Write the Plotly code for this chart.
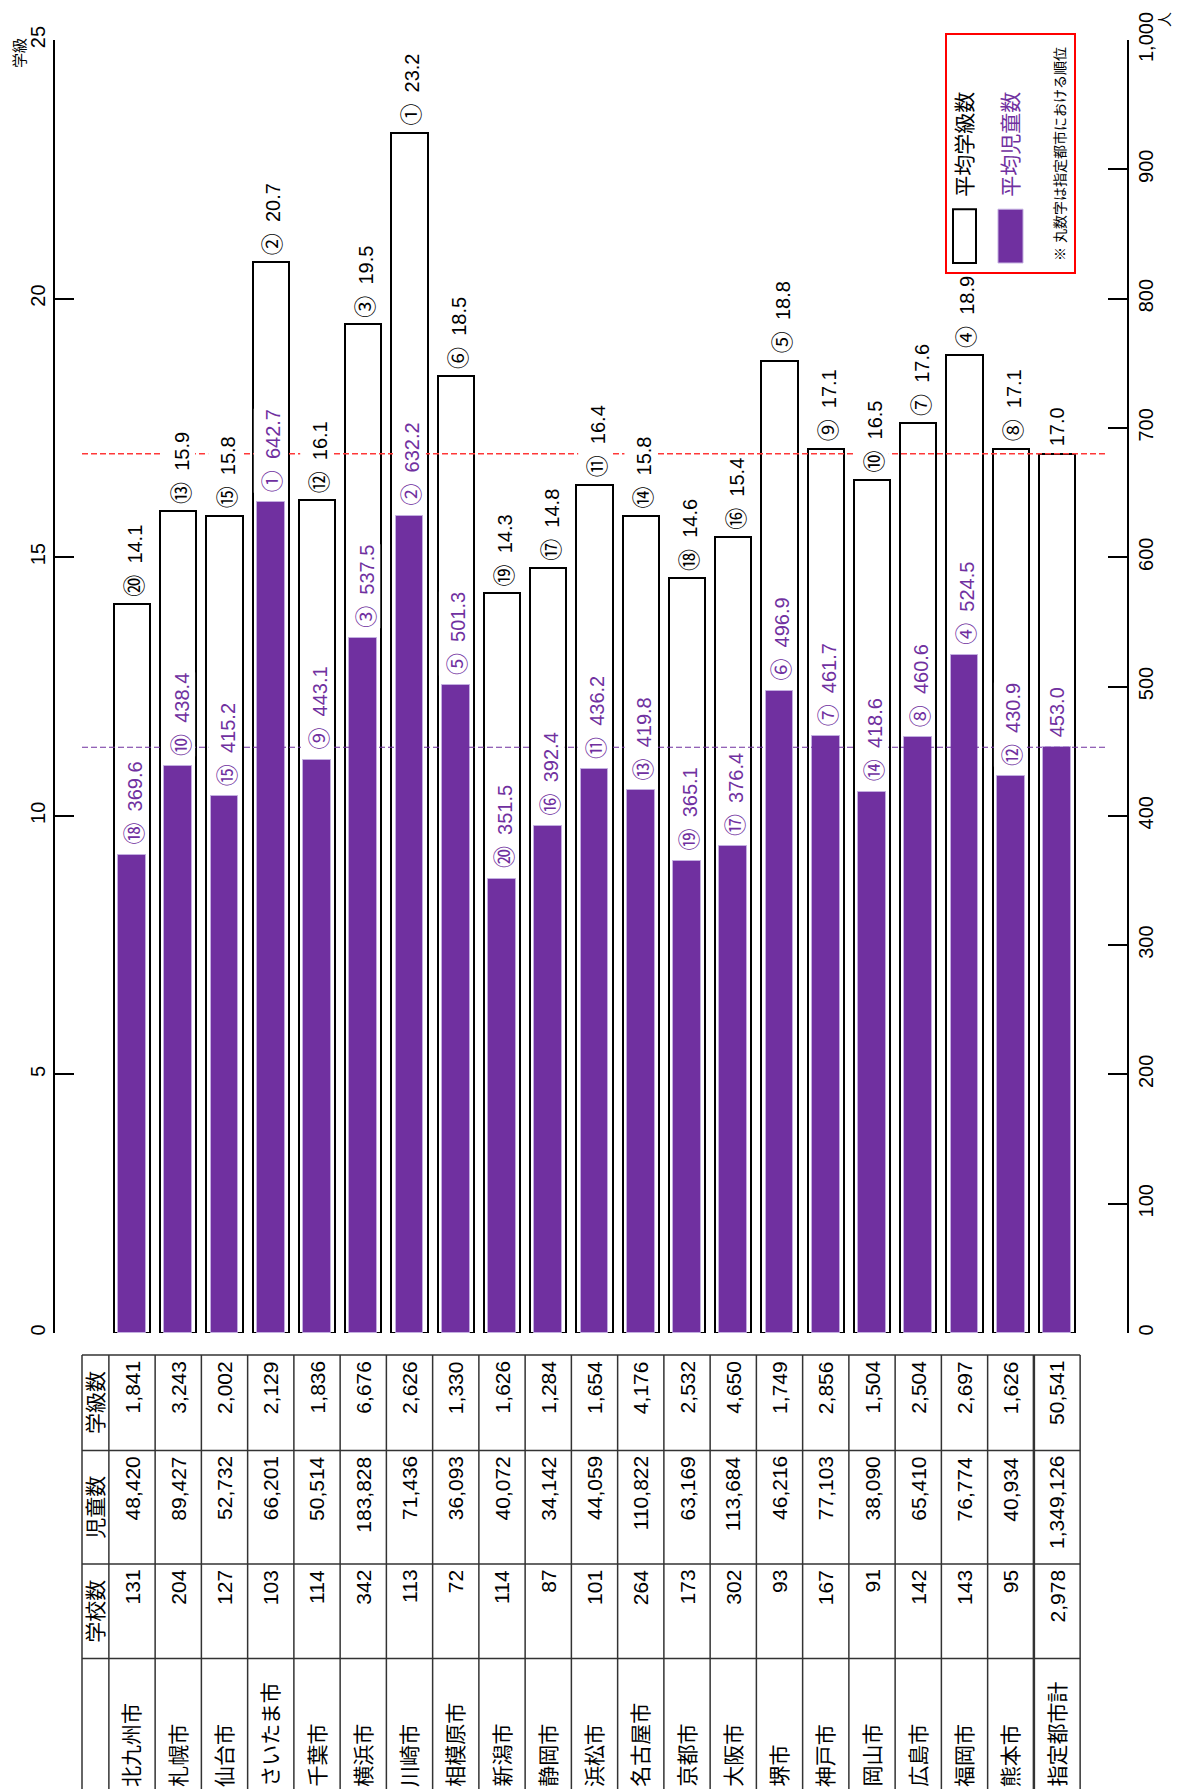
import plotly.graph_objects as go

# ---- data -------------------------------------------------------------
cities = ["北九州市", "札幌市", "仙台市", "さいたま市", "千葉市", "横浜市", "川崎市",
          "相模原市", "新潟市", "静岡市", "浜松市", "名古屋市", "京都市", "大阪市",
          "堺市", "神戸市", "岡山市", "広島市", "福岡市", "熊本市", "指定都市計"]
avg_classes = [14.1, 15.9, 15.8, 20.7, 16.1, 19.5, 23.2, 18.5, 14.3, 14.8, 16.4,
               15.8, 14.6, 15.4, 18.8, 17.1, 16.5, 17.6, 18.9, 17.1, 17.0]
class_rank = ["⑳", "⑬", "⑮", "②", "⑫", "③", "①", "⑥", "⑲", "⑰", "⑪",
              "⑭", "⑱", "⑯", "⑤", "⑨", "⑩", "⑦", "④", "⑧", ""]
avg_pupils = [369.6, 438.4, 415.2, 642.7, 443.1, 537.5, 632.2, 501.3, 351.5, 392.4,
              436.2, 419.8, 365.1, 376.4, 496.9, 461.7, 418.6, 460.6, 524.5, 430.9, 453.0]
pupil_rank = ["⑱", "⑩", "⑮", "①", "⑨", "③", "②", "⑤", "⑳", "⑯", "⑪",
              "⑬", "⑲", "⑰", "⑥", "⑦", "⑭", "⑧", "④", "⑫", ""]
schools = [131, 204, 127, 103, 114, 342, 113, 72, 114, 87, 101, 264, 173, 302,
           93, 167, 91, 142, 143, 95, 2978]
pupils = [48420, 89427, 52732, 66201, 50514, 183828, 71436, 36093, 40072, 34142,
          44059, 110822, 63169, 113684, 46216, 77103, 38090, 65410, 76774, 40934, 1349126]
classes = [1841, 3243, 2002, 2129, 1836, 6676, 2626, 1330, 1626, 1284, 1654,
           4176, 2532, 4650, 1749, 2856, 1504, 2504, 2697, 1626, 50541]
table_headers = ["学級数", "児童数", "学校数"]

# ---- page geometry (pixels) -------------------------------------------
W, H = 1178, 1789
PL, PR, PT, PB = 55, 1127, 34, 1333          # plot area edges
STEP = 46.25                                  # pixels per category
FIRST = 132                                   # centre of first category
XMIN = -(FIRST - PL) / STEP
XMAX = (PR - FIRST) / STEP

PURPLE = "#7030A0"
FONT = "Liberation Sans, Arial, Noto Sans CJK JP"


def px_x(px):
    """pixel x -> data x"""
    return (px - FIRST) / STEP


def paper_x(px):
    return (px - PL) / (PR - PL)


def paper_y(py):
    return (PB - py) / (PB - PT)


def ranked(rank, value):
    if not rank:
        return f"{value:.1f}"
    return (f'<span style="font-family:Noto Sans CJK JP;font-size:22px">{rank}</span>'
            f"\u00a0\u00a0{value:.1f}")


n = len(cities)
idx = list(range(n))

fig = go.Figure()
fig.add_trace(go.Bar(
    x=idx, y=avg_classes, width=0.78, yaxis="y",
    marker=dict(color="white", line=dict(color="black", width=2)),
    hoverinfo="skip", showlegend=False))
fig.add_trace(go.Bar(
    x=idx, y=avg_pupils, width=0.6, yaxis="y2",
    marker=dict(color=PURPLE, line=dict(color="#c3aee0", width=1)),
    hoverinfo="skip", showlegend=False))

shapes = []
annotations = []

# reference lines at the all-city averages
line_x0, line_x1 = px_x(82), px_x(1107)
shapes.append(dict(type="line", xref="x", yref="y", x0=line_x0, x1=line_x1,
                   y0=avg_classes[-1], y1=avg_classes[-1], layer="above",
                   line=dict(color="#ff3838", width=1.3, dash="6px,3px")))
shapes.append(dict(type="line", xref="x", yref="y2", x0=line_x0, x1=line_x1,
                   y0=avg_pupils[-1], y1=avg_pupils[-1], layer="above",
                   line=dict(color=PURPLE, width=1.2, dash="6px,3px")))


def note(**kw):
    base = dict(showarrow=False, textangle=-90, xanchor="center", yanchor="middle")
    base.update(kw)
    annotations.append(base)


# value labels
for i in idx:
    note(x=i, y=avg_classes[i], xref="x", yref="y", text=ranked(class_rank[i], avg_classes[i]),
         yanchor="bottom", yshift=6, bgcolor="white", borderpad=0,
         font=dict(family=FONT, size=20, color="black"))
    note(x=i, y=avg_pupils[i], xref="x", yref="y2", text=ranked(pupil_rank[i], avg_pupils[i]),
         yanchor="bottom", yshift=9, bgcolor="white", borderpad=0,
         font=dict(family=FONT, size=20, color=PURPLE))

# axis unit captions
note(x=paper_x(20), y=paper_y(47), xref="paper", yref="paper", text="学級",
     font=dict(family=FONT, size=15, color="black"))
note(x=paper_x(1164), y=paper_y(14), xref="paper", yref="paper", text="人",
     font=dict(family=FONT, size=15, color="black"))

# legend box
shapes.append(dict(type="rect", xref="paper", yref="paper",
                   x0=paper_x(946), x1=paper_x(1075), y0=paper_y(268), y1=paper_y(28),
                   line=dict(color="#ff0000", width=2), fillcolor="white", layer="above"))
shapes.append(dict(type="rect", xref="paper", yref="paper",
                   x0=paper_x(953), x1=paper_x(976), y0=paper_y(258), y1=paper_y(204),
                   line=dict(color="black", width=2), fillcolor="white", layer="above"))
shapes.append(dict(type="rect", xref="paper", yref="paper",
                   x0=paper_x(998), x1=paper_x(1023), y0=paper_y(258), y1=paper_y(204),
                   line=dict(color="#c3aee0", width=1), fillcolor=PURPLE, layer="above"))
note(x=paper_x(965), y=paper_y(194), xref="paper", yref="paper", text="平均学級数",
     yanchor="bottom", font=dict(family=FONT, size=21, color="black"))
note(x=paper_x(1011), y=paper_y(194), xref="paper", yref="paper", text="平均児童数",
     yanchor="bottom", font=dict(family=FONT, size=21, color=PURPLE))
note(x=paper_x(1060), y=paper_y(258), xref="paper", yref="paper",
     text="※ 丸数字は指定都市における順位", yanchor="bottom",
     font=dict(family=FONT, size=14, color="black"))

# ---- data table below the chart --------------------------------------
T_TOP, R1, R2, R3, T_BOT = 1355, 1451, 1565, 1660, 1800
tx_left = px_x(82)
tx_right = n - 0.5
tline = dict(color="#333333", width=1.5)
for py in (T_TOP, R1, R2, R3):
    shapes.append(dict(type="line", xref="x", yref="paper", x0=tx_left, x1=tx_right,
                       y0=paper_y(py), y1=paper_y(py), line=tline))
for xv in [tx_left] + [k - 0.5 for k in range(n + 1)]:
    w = 2.5 if abs(xv - (n - 1.5)) < 1e-9 else 1.5
    shapes.append(dict(type="line", xref="x", yref="paper", x0=xv, x1=xv,
                       y0=paper_y(T_TOP), y1=paper_y(T_BOT),
                       line=dict(color="#333333", width=w)))

hdr_x = (tx_left - 0.5) / 2
for label, (a, b) in zip(table_headers, [(T_TOP, R1), (R1, R2), (R2, R3)]):
    note(x=hdr_x, y=paper_y((a + b) / 2), xref="x", yref="paper", text=label,
         font=dict(family=FONT, size=21, color="black"))

for i in idx:
    for vals, top in ((classes, T_TOP), (pupils, R1), (schools, R2)):
        note(x=i, y=paper_y(top + 4), xref="x", yref="paper", text=f"{vals[i]:,}",
             yanchor="top", font=dict(family=FONT, size=21, color="black"))
    note(x=i, y=paper_y(1791), xref="x", yref="paper", text=cities[i],
         yanchor="bottom", font=dict(family=FONT, size=21, color="black"))

axis_common = dict(showgrid=False, zeroline=False, showline=True, linecolor="black",
                   linewidth=2, ticks="inside", ticklen=19, tickwidth=2, tickcolor="black",
                   tickangle=-90, tickfont=dict(family=FONT, size=20, color="black"))

fig.update_layout(
    width=W, height=H,
    margin=dict(l=PL, r=W - PR, t=PT, b=H - PB, pad=0),
    paper_bgcolor="white", plot_bgcolor="white",
    barmode="overlay", bargap=0,
    showlegend=False,
    xaxis=dict(range=[XMIN, XMAX], showgrid=False, zeroline=False, showline=False,
               showticklabels=False, ticks=""),
    yaxis=dict(range=[0, 25], dtick=5, **axis_common),
    yaxis2=dict(range=[0, 1000], dtick=100, tickformat=",", overlaying="y",
                side="right", **axis_common),
    shapes=shapes,
    annotations=annotations,
)

fig.write_html("out.html")
